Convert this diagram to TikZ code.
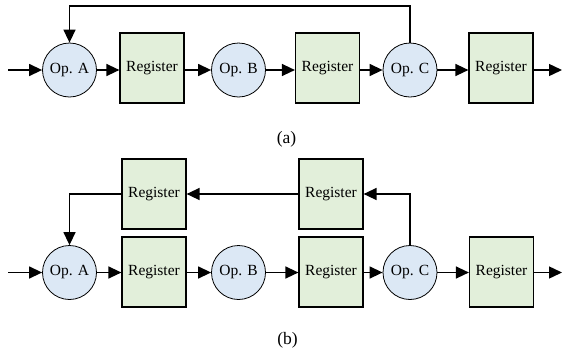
\documentclass[tikz,border=0pt]{standalone}
\usepackage{fontspec}
\setmainfont{Liberation Serif}
\usetikzlibrary{arrows.meta}
\definecolor{opfill}{HTML}{DCE8F5}
\definecolor{regfill}{HTML}{E2EFDA}
\begin{document}
\begin{tikzpicture}[x=1pt,y=-1pt,
  op/.style={circle,draw,fill=opfill,line width=0.8pt,minimum size=54pt,inner sep=0pt,font=\fontsize{15.5}{17}\selectfont},
  reg/.style={rectangle,draw,fill=regfill,line width=1.2pt,minimum width=64pt,minimum height=70pt,inner sep=0pt,font=\fontsize{15.5}{17}\selectfont},
  conn/.style={line width=1.4pt,-{Triangle[length=13pt,width=12pt]}},
  captext/.style={font=\fontsize{17.5}{19}\selectfont}]
\useasboundingbox (0,0) rectangle (564,354);
% (a)
\node[op]  (opA)  at (69.5,70) {Op. A};
\node[reg] (rA1)  at (152,68) {Register};
\node[op]  (opB)  at (238.5,70) {Op. B};
\node[reg] (rA2)  at (327.5,68) {Register};
\node[op]  (opC)  at (410,70) {Op. C};
\node[reg] (rA3)  at (501,68) {Register};
\coordinate (inA) at (8,70);
\coordinate (outA) at (562,70);
\coordinate (fbA) at (69.5,6);
\draw[conn] (inA) -- (opA);
\draw[conn] (opA) -- (rA1.west|-opA);
\draw[conn] (rA1.east|-opB) -- (opB);
\draw[conn] (opB) -- (rA2.west|-opB);
\draw[conn] (rA2.east|-opC) -- (opC);
\draw[conn] (opC) -- (rA3.west|-opC);
\draw[conn] (rA3.east|-outA) -- (outA);
\draw[conn] (opC.north) |- (fbA) -- (opA.north);
\node[captext] (capA) at (286.5,139.5) {(a)};
% (b)
\node[op]  (opA2) at (69.5,272.5) {Op. A};
\node[reg] (rB1)  at (154,272) {Register};
\node[op]  (opB2) at (238.5,272.5) {Op. B};
\node[reg] (rB2)  at (331,272) {Register};
\node[op]  (opC2) at (410,272.5) {Op. C};
\node[reg] (rB3)  at (501.5,272) {Register};
\node[reg] (rT1)  at (154,194) {Register};
\node[reg] (rT2)  at (331,194) {Register};
\coordinate (inB) at (8,272.5);
\coordinate (outB) at (562,272.5);
\draw[conn] (inB) -- (opA2);
\draw[conn] (opA2) -- (rB1.west|-opA2);
\draw[conn] (rB1.east|-opB2) -- (opB2);
\draw[conn] (opB2) -- (rB2.west|-opB2);
\draw[conn] (rB2.east|-opC2) -- (opC2);
\draw[conn] (opC2) -- (rB3.west|-opC2);
\draw[conn] (rB3.east|-outB) -- (outB);
\draw[conn] (opC2.north) |- (rT2.east);
\draw[conn] (rT2.west) -- (rT1.east);
\draw[conn] (rT1.west) -| (opA2.north);
\node[captext] (capB) at (287.5,340.5) {(b)};
\end{tikzpicture}
\end{document}
